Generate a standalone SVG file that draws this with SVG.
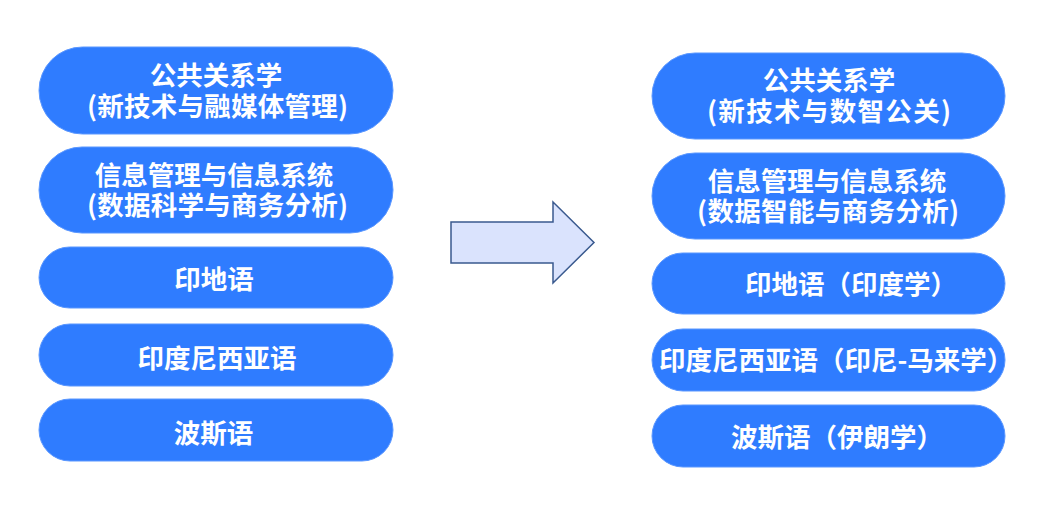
<svg xmlns="http://www.w3.org/2000/svg" width="1042" height="515" viewBox="0 0 1042 515">
<style>
.pill{fill:#2F7CFF;stroke:#5A97FF;stroke-width:1}
.t{fill:#FFFFFF;font-family:"Noto Sans CJK SC","Noto Sans",sans-serif;font-weight:700;font-size:26.5px}
.m{text-anchor:middle}
.arrow{fill:#DAE3FD;stroke:#3A5A8F;stroke-width:1.5;stroke-linejoin:miter}
</style>
<rect width="1042" height="515" fill="#FFFFFF"/>
<g id="left-1">
<rect class="pill" x="39" y="47" width="354" height="87" rx="43.5"/>
<text class="t m" x="216" y="85">公共关系学</text>
<text class="t m" x="217.5" y="115.5" textLength="261" lengthAdjust="spacing">(新技术与融媒体管理)</text>
</g>
<g id="left-2">
<rect class="pill" x="39" y="147" width="354" height="86" rx="43"/>
<text class="t m" x="214" y="185">信息管理与信息系统</text>
<text class="t m" x="217.5" y="215" textLength="261" lengthAdjust="spacing">(数据科学与商务分析)</text>
</g>
<g id="left-3">
<rect class="pill" x="39" y="247" width="354" height="61" rx="30.5"/>
<text class="t m" x="214" y="288.5">印地语</text>
</g>
<g id="left-4">
<rect class="pill" x="39" y="324" width="354" height="62" rx="31"/>
<text class="t m" x="217" y="367.5">印度尼西亚语</text>
</g>
<g id="left-5">
<rect class="pill" x="39" y="399" width="354" height="62" rx="31"/>
<text class="t m" x="213.5" y="442.5">波斯语</text>
</g>
<g id="connectors">
<polygon class="arrow" points="451,222 553,222 553,202 594,242.5 553,283 553,263 451,263"/>
</g>
<g id="right-1">
<rect class="pill" x="652" y="53" width="353" height="86" rx="43"/>
<text class="t m" x="829" y="90">公共关系学</text>
<text class="t m" x="829" y="120.5" textLength="244" lengthAdjust="spacing">(新技术与数智公关)</text>
</g>
<g id="right-2">
<rect class="pill" x="652" y="153" width="353" height="86" rx="43"/>
<text class="t m" x="827" y="191">信息管理与信息系统</text>
<text class="t m" x="828" y="221" textLength="262" lengthAdjust="spacing">(数据智能与商务分析)</text>
</g>
<g id="right-3">
<rect class="pill" x="652" y="253" width="353" height="61" rx="30.5"/>
<text class="t" x="745" y="294">印地语（印度学）</text>
</g>
<g id="right-4">
<rect class="pill" x="652" y="329" width="353" height="62" rx="31"/>
<text class="t" x="659" y="370">印度尼西亚语（印尼-马来学）</text>
</g>
<g id="right-5">
<rect class="pill" x="652" y="405" width="353" height="62" rx="31"/>
<text class="t" x="731" y="446.5">波斯语（伊朗学）</text>
</g>
</svg>
